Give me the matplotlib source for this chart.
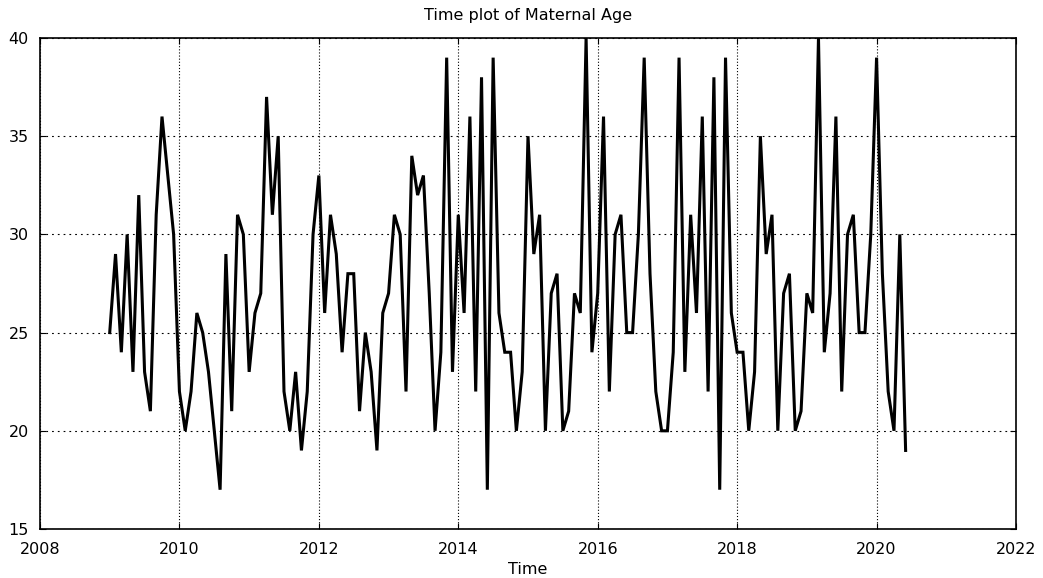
import numpy as np
import matplotlib
matplotlib.use('Agg')
import matplotlib.pyplot as plt

# monthly maternal age, Jan 2009 onwards
start_year = 2009
age = [25, 29, 24, 30, 23, 32, 23, 21, 31, 36, 33, 30,
       22, 20, 22, 26, 25, 23, 20, 17, 29, 21, 31, 30,
       23, 26, 27, 37, 31, 35, 22, 20, 23, 19, 22, 30,
       33, 26, 31, 29, 24, 28, 28, 21, 25, 23, 19, 26,
       27, 31, 30, 22, 34, 32, 33, 27, 20, 24, 39, 23,
       31, 26, 36, 22, 38, 17, 39, 26, 24, 24, 20, 23,
       35, 29, 31, 20, 27, 28, 20, 21, 27, 26, 40, 24,
       27, 36, 22, 30, 31, 25, 25, 30, 39, 28, 22, 20,
       20, 24, 39, 23, 31, 26, 36, 22, 38, 17, 39, 26,
       24, 24, 20, 23, 35, 29, 31, 20, 27, 28, 20, 21,
       27, 26, 40, 24, 27, 36, 22, 30, 31, 25, 25, 30,
       39, 28, 22, 20, 30, 19]
time = start_year + np.arange(len(age)) / 12.0

xticks = [2008, 2010, 2012, 2014, 2016, 2018, 2020, 2022]
yticks = [15, 20, 25, 30, 35, 40]

W, H = 1043, 578
fig = plt.figure(figsize=(W / 100, H / 100), dpi=100)
ax = fig.add_axes([40 / W, (H - 529) / H, 976 / W, 491 / H])

ax.plot(time, age, color='black', linewidth=2.2, solid_joinstyle='miter')

ax.set_xlim(2008, 2022)
ax.set_ylim(15, 40)
ax.set_xticks(xticks)
ax.set_yticks(yticks)
# vertical grid lines are fine dots, horizontal ones sparser dashes
ax.grid(True, axis='x', color='black', linestyle=(0, (1, 1.8)), linewidth=0.8)
ax.grid(True, axis='y', color='black', linestyle=(0, (1.6, 3.6)), linewidth=0.8)
ax.tick_params(direction='in', length=4, width=0.8, top=True, right=True,
               labelsize=11.5, colors='black')
ax.tick_params(axis='y', pad=8)
ax.tick_params(axis='x', pad=9)
for s in ax.spines.values():
    s.set_linewidth(1.2)

ax.set_title('Time plot of Maternal Age', fontsize=11.5, pad=13)
ax.set_xlabel('Time', fontsize=11.5, labelpad=4)

fig.savefig('out.png', dpi=100)
